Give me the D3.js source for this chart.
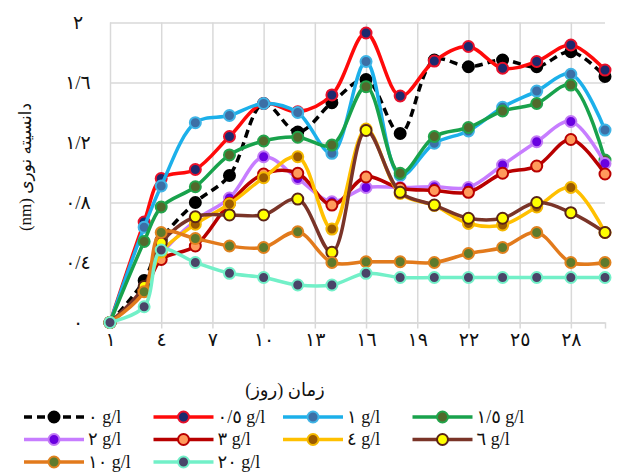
<!DOCTYPE html>
<html>
<head>
<meta charset="utf-8">
<script src="https://cdn.jsdelivr.net/npm/d3@7"></script>
<style>
  body { margin: 0; background: #fff; }
  text { font-family: "Times New Roman", "Liberation Serif", "DejaVu Sans", serif; }
</style>
</head>
<body>
<svg width="629" height="472"></svg>
<script>
// sampling days
const days = [1, 3, 4, 6, 8, 10, 12, 14, 16, 18, 20, 22, 24, 26, 28, 30];

// optical density per concentration
const s0  = [0, 0.28, 0.55, 0.80, 0.98, 1.46, 1.27, 1.465, 1.62, 1.26, 1.75, 1.705, 1.75, 1.705, 1.805, 1.64];
const s05 = [0, 0.67, 0.96, 1.02, 1.24, 1.46, 1.405, 1.517, 1.93, 1.51, 1.743, 1.84, 1.695, 1.74, 1.85, 1.683];
const s1  = [0, 0.635, 0.91, 1.332, 1.38, 1.46, 1.40, 1.128, 1.74, 0.98, 1.195, 1.277, 1.435, 1.543, 1.655, 1.283];
const s15 = [0, 0.54, 0.77, 0.905, 1.117, 1.21, 1.235, 1.183, 1.572, 0.995, 1.24, 1.30, 1.41, 1.46, 1.583, 1.083];
const s2  = [0, 0.22, 0.45, 0.68, 0.83, 1.105, 0.96, 0.805, 0.90, 0.90, 0.905, 0.90, 1.05, 1.205, 1.34, 1.06];
const s3  = [0, 0.21, 0.42, 0.51, 0.795, 0.99, 0.995, 0.783, 0.97, 0.895, 0.88, 0.868, 0.995, 1.043, 1.22, 0.99];
const s4  = [0, 0.21, 0.47, 0.655, 0.79, 0.965, 1.105, 0.623, 1.29, 0.86, 0.78, 0.66, 0.65, 0.77, 0.90, 0.60];
const s6  = [0, 0.24, 0.53, 0.705, 0.717, 0.717, 0.823, 0.468, 1.28, 0.868, 0.783, 0.695, 0.695, 0.80, 0.732, 0.60];
const s10 = [0, 0.205, 0.60, 0.56, 0.51, 0.50, 0.605, 0.40, 0.405, 0.405, 0.40, 0.46, 0.50, 0.60, 0.40, 0.40];
const s20 = [0, 0.105, 0.483, 0.40, 0.328, 0.30, 0.25, 0.25, 0.328, 0.30, 0.30, 0.30, 0.30, 0.30, 0.30, 0.30];

const seriesNames = ['٠ g/l', '٠/٥ g/l', '١ g/l', '١/٥ g/l', '٢ g/l', '٣ g/l', '٤ g/l', '٦ g/l', '١٠ g/l', '٢٠ g/l'];

const xTicks = [1, 4, 7, 10, 13, 16, 19, 22, 25, 28];
const xTickLabels = ['١', '٤', '٧', '١٠', '١٣', '١٦', '١٩', '٢٢', '٢٥', '٢٨'];
const yTicks = [0, 0.4, 0.8, 1.2, 1.6, 2];
const yTickLabels = ['٠', '٠/٤', '٠/٨', '١/٢', '١/٦', '٢'];

// line colour, marker fill, marker outline
const styles = [
    { line: '#000000', fill: '#000000', edge: '#000000', dash: '8,5' },
    { line: '#ff0a0a', fill: '#1c2a6e', edge: '#e8102a' },
    { line: '#1cb0ea', fill: '#3c6fa6', edge: '#3fb4e6' },
    { line: '#18a24c', fill: '#52692c', edge: '#22a44a' },
    { line: '#c77dff', fill: '#6a00e0', edge: '#c27af5' },
    { line: '#b80000', fill: '#ff9a5c', edge: '#b80000' },
    { line: '#ffc000', fill: '#9a5a00', edge: '#f4b800' },
    { line: '#7a3428', fill: '#ffff00', edge: '#5a2418' },
    { line: '#e27a1c', fill: '#5e7a2c', edge: '#e0821e' },
    { line: '#72f0c8', fill: '#4a4468', edge: '#72f0c8' }
];

const series = [s0, s05, s1, s15, s2, s3, s4, s6, s10, s20].map((vals, i) => ({
    name: seriesNames[i],
    style: styles[i],
    points: vals.map((v, j) => ({ day: days[j], v }))
}));

const svg = d3.select('svg');
const m = { left: 110, right: 24, top: 22.5, bottom: 149.5 };
const W = 629 - m.left - m.right, H = 472 - m.top - m.bottom;

const x = d3.scaleLinear().domain([1, 30]).range([m.left, m.left + W]);
const y = d3.scaleLinear().domain([0, 2]).range([m.top + H, m.top]);

// grid
svg.append('g')
    .attr('transform', `translate(0,${m.top + H})`)
    .call(d3.axisBottom(x).tickValues(xTicks).tickSize(-H).tickFormat(''))
    .call(g => g.select('.domain').remove())
    .selectAll('line').attr('stroke', '#d9d9d9').attr('stroke-width', 1.5);

svg.append('g')
    .attr('transform', `translate(${m.left},0)`)
    .call(d3.axisLeft(y).tickValues(yTicks).tickSize(-W).tickFormat(''))
    .call(g => g.select('.domain').remove())
    .selectAll('line').attr('stroke', '#d9d9d9').attr('stroke-width', 1.5);

// x axis
const xAxis = svg.append('g')
    .attr('transform', `translate(0,${m.top + H})`)
    .call(d3.axisBottom(x).tickValues(xTicks).tickSize(6).tickPadding(4)
        .tickFormat((d, i) => xTickLabels[i]));
xAxis.select('.domain').attr('stroke', '#d9d9d9').attr('stroke-width', 1.5);
xAxis.selectAll('line').attr('stroke', '#d9d9d9').attr('stroke-width', 1.5);
xAxis.selectAll('text').attr('font-size', 19).attr('fill', '#111');

// y labels
svg.append('g').selectAll('text')
    .data(yTicks)
    .join('text')
        .attr('x', 78)
        .attr('y', d => y(d))
        .attr('dy', '0.35em')
        .attr('text-anchor', 'middle')
        .attr('font-size', 19)
        .attr('fill', '#111')
        .text((d, i) => yTickLabels[i]);

// titles
svg.append('text')
    .attr('transform', `translate(31,167) rotate(-90)`)
    .attr('text-anchor', 'middle')
    .attr('font-size', 17)
    .attr('fill', '#111')
    .attr('direction', 'rtl')
    .text('دانسیته نوری (nm)');

svg.append('text')
    .attr('x', 285)
    .attr('y', 396)
    .attr('text-anchor', 'middle')
    .attr('font-size', 18)
    .attr('fill', '#111')
    .attr('direction', 'rtl')
    .text('زمان (روز)');

// lines and markers
const line = d3.line()
    .x(d => x(d.day))
    .y(d => y(d.v))
    .curve(d3.curveCatmullRom.alpha(0.5));

const groups = svg.append('g').selectAll('.series')
    .data(series)
    .join('g')
        .attr('class', 'series');

groups.append('path')
    .attr('fill', 'none')
    .attr('stroke', d => d.style.line)
    .attr('stroke-width', 3.5)
    .attr('stroke-dasharray', d => d.style.dash || null)
    .attr('d', d => line(d.points));

groups.selectAll('circle')
    .data(d => d.points.map(p => ({ ...p, style: d.style })))
    .join('circle')
        .attr('cx', d => x(d.day))
        .attr('cy', d => y(d.v))
        .attr('r', 5.5)
        .attr('fill', d => d.style.fill)
        .attr('stroke', d => d.style.edge)
        .attr('stroke-width', 2);

// legend
const legend = svg.append('g').selectAll('g')
    .data(series)
    .join('g')
        .attr('transform', (d, i) => `translate(${24 + (i % 4) * 129.5},${417 + Math.floor(i / 4) * 22.5})`);

legend.append('line')
    .attr('x1', 0).attr('x2', 60)
    .attr('stroke', d => d.style.line)
    .attr('stroke-width', 3.5)
    .attr('stroke-dasharray', d => d.style.dash || null);

legend.append('circle')
    .attr('cx', 30)
    .attr('r', 5.5)
    .attr('fill', d => d.style.fill)
    .attr('stroke', d => d.style.edge)
    .attr('stroke-width', 2);

legend.append('text')
    .attr('x', 64)
    .attr('dy', '0.33em')
    .attr('font-size', 18)
    .attr('fill', '#111')
    .text(d => d.name);
</script>
</body>
</html>
